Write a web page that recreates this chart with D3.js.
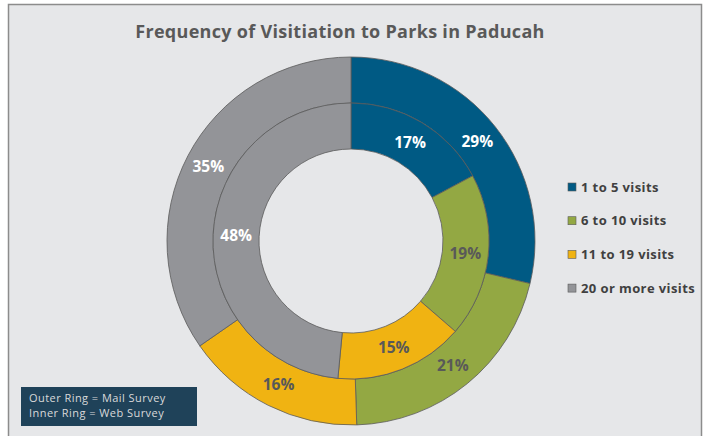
<!DOCTYPE html>
<html>
<head>
<meta charset="utf-8">
<script src="https://cdn.jsdelivr.net/npm/d3@7"></script>
<style>
  body { margin: 0; background: #fff; }
  svg { display: block; }
</style>
</head>
<body>
<div class="chart"></div>
<script>
const categories = ["1 to 5 visits", "6 to 10 visits", "11 to 19 visits", "20 or more visits"];
const mailSurvey = [29, 21, 16, 35];   // outer ring
const webSurvey = [17, 19, 15, 48];    // inner ring
const colors = ["#005a84", "#93a843", "#f0b312", "#939498"];
const labelColors = ["#ffffff", "#595959", "#595959", "#ffffff"];
const noteLines = ["Outer Ring = Mail Survey", "Inner Ring = Web Survey"];

const width = 705, height = 436;
const font = "'Open Sans', 'Lato', sans-serif";

const svg = d3.select(".chart").append("svg")
    .attr("width", width)
    .attr("height", height);

// panel frame
svg.append("rect")
    .attr("x", 8.5).attr("y", 4.5)
    .attr("width", 693).attr("height", 440)
    .attr("fill", "#e6e7e9")
    .attr("stroke", "#8c8c8c")
    .attr("stroke-width", 1.5);

svg.append("text")
    .attr("x", 340).attr("y", 38)
    .attr("text-anchor", "middle")
    .attr("font-family", font)
    .attr("font-weight", "bold")
    .attr("font-size", 18)
    .attr("letter-spacing", 0.3)
    .attr("fill", "#595959")
    .text("Frequency of Visitiation to Parks in Paducah");

const cx = 351, cy = 241;
const rHole = 92, rMid = 138, rOuter = 184;

const color = d3.scaleOrdinal().domain(categories).range(colors);
const pie = d3.pie().sort(null).value(d => d.value);

const g = svg.append("g").attr("transform", `translate(${cx},${cy})`);

function ring(values, r0, r1, cls) {
    const data = pie(values.map((v, i) => ({cat: categories[i], value: v, i: i})));
    const arc = d3.arc().innerRadius(r0).outerRadius(r1);
    g.selectAll("path." + cls)
        .data(data)
        .enter()
        .append("path")
        .attr("class", cls)
        .attr("d", arc)
        .attr("fill", d => color(d.data.cat))
        .attr("stroke", "#5a5a5a")
        .attr("stroke-width", 0.8);
    g.selectAll("text." + cls)
        .data(data)
        .enter()
        .append("text")
        .attr("class", cls)
        .attr("transform", d => `translate(${arc.centroid(d)})`)
        .attr("text-anchor", "middle")
        .attr("dy", "0.35em")
        .attr("font-family", font)
        .attr("font-weight", "bold")
        .attr("font-size", 15.5)
        .attr("fill", d => labelColors[d.data.i])
        .text(d => d.data.value + "%");
}

ring(mailSurvey, rMid, rOuter, "outer");
ring(webSurvey, rHole, rMid, "inner");

// legend
const legend = svg.append("g");
legend.selectAll(".legend-color")
    .data(categories)
    .enter()
    .append("rect")
    .attr("class", "legend-color")
    .attr("x", 568)
    .attr("y", (d, i) => 183 + i * 33.7)
    .attr("width", 8).attr("height", 8)
    .attr("fill", d => color(d))
    .attr("stroke", "#5a5a5a")
    .attr("stroke-width", 0.6);
legend.selectAll(".legend-text")
    .data(categories)
    .enter()
    .append("text")
    .attr("class", "legend-text")
    .attr("x", 581)
    .attr("y", (d, i) => 187 + i * 33.7)
    .attr("dy", "0.35em")
    .attr("font-family", font)
    .attr("font-weight", "bold")
    .attr("font-size", 13)
    .attr("letter-spacing", 0.4)
    .attr("fill", "#404040")
    .text(d => d);

// note box
svg.append("rect")
    .attr("x", 21).attr("y", 387)
    .attr("width", 176).attr("height", 39)
    .attr("fill", "#1f4259");
svg.selectAll(".note")
    .data(noteLines)
    .enter()
    .append("text")
    .attr("class", "note")
    .attr("x", 29)
    .attr("y", (d, i) => 401.5 + i * 15)
    .attr("font-family", font)
    .attr("font-size", 11)
    .attr("letter-spacing", 0.45)
    .attr("fill", "#d9d9d9")
    .text(d => d);
</script>
</body>
</html>
